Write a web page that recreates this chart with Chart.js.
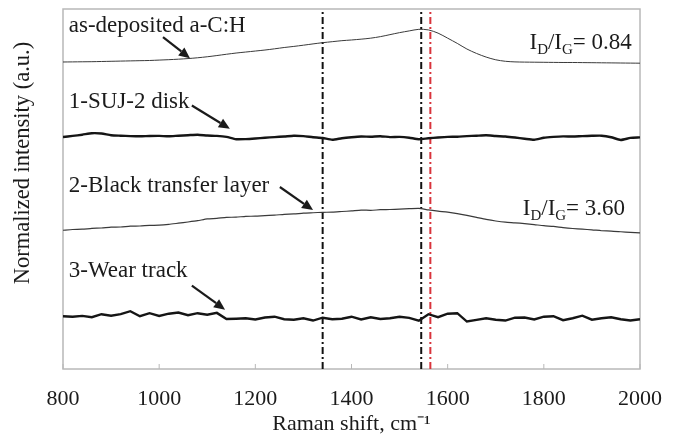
<!DOCTYPE html>
<html>
<head>
<meta charset="utf-8">
<title>Raman spectra</title>
<script src="https://cdn.jsdelivr.net/npm/chart.js@4.4.1/dist/chart.umd.min.js"></script>
<style>
    html, body { margin: 0; padding: 0; background: #fff; }
    #wrap { width: 678px; height: 437px; position: relative; }
</style>
</head>
<body>
<div id="wrap"><canvas id="ramanChart"></canvas></div>
<script>
// Raman shift grid (cm-1), one reading every 20 cm-1
const shiftGrid = Array.from({ length: 61 }, (_, i) => 800 + i * 20);

// Normalized intensities with the vertical offsets of the figure (a.u.)
const asDeposited = [
    30.53, 30.54, 30.55, 30.56, 30.58, 30.60, 30.62, 30.64, 30.66, 30.68, 30.72,
    30.76, 30.81, 30.87, 30.95, 31.05, 31.17, 31.30, 31.42, 31.52, 31.62,
    31.72, 31.84, 31.97, 32.08, 32.20, 32.33, 32.45, 32.55, 32.65, 32.72,
    32.80, 32.90, 33.05, 33.25, 33.45, 33.62, 33.78, 33.72, 33.40, 32.90,
    32.38, 31.82, 31.38, 31.02, 30.75, 30.60, 30.54, 30.52, 30.51, 30.50,
    30.49, 30.48, 30.48, 30.47, 30.46, 30.45, 30.44, 30.43, 30.42, 30.41
];
const sujDisk = [
    23.07, 23.18, 23.30, 23.45, 23.42, 23.25, 23.20, 23.16, 23.14, 23.17, 23.18,
    23.14, 23.20, 23.25, 23.30, 23.22, 23.18, 23.08, 22.85, 22.86, 22.92,
    23.00, 23.06, 23.12, 23.20, 23.16, 23.05, 22.97, 22.80, 22.95, 23.05,
    23.12, 23.10, 23.15, 23.06, 23.08, 23.00, 22.85, 22.95, 23.02, 23.08,
    23.10, 23.16, 23.20, 23.24, 23.17, 23.12, 23.02, 22.90, 22.80, 23.00,
    23.08, 23.13, 23.12, 23.16, 23.19, 23.20, 23.05, 22.78, 22.98, 23.03
];
const transferLayer = [
    13.80, 13.87, 13.90, 13.98, 14.02, 14.10, 14.12, 14.20, 14.22, 14.28, 14.30,
    14.38, 14.50, 14.62, 14.75, 14.92, 14.98, 15.08, 15.10, 15.18, 15.20,
    15.26, 15.30, 15.38, 15.42, 15.50, 15.54, 15.58, 15.60, 15.66, 15.72,
    15.80, 15.78, 15.84, 15.86, 15.90, 15.94, 15.98, 15.82, 15.70, 15.60,
    15.46, 15.28, 15.08, 14.88, 14.72, 14.60, 14.54, 14.46, 14.36, 14.25,
    14.18, 14.06, 13.97, 13.90, 13.84, 13.75, 13.72, 13.65, 13.58, 13.53
];
const wearTrack = [
    5.25, 5.20, 5.28, 5.15, 5.45, 5.30, 5.45, 5.75, 5.25, 5.55, 5.28,
    5.50, 5.62, 5.35, 5.55, 5.40, 5.58, 4.97, 5.00, 5.05, 4.92,
    5.12, 5.20, 4.95, 4.90, 5.05, 4.82, 5.10, 4.95, 5.00, 5.20,
    4.92, 5.15, 4.98, 5.05, 5.20, 5.08, 4.80, 5.45, 5.15, 5.50,
    5.55, 4.72, 4.88, 5.05, 4.90, 4.82, 5.10, 5.12, 4.92, 5.20,
    5.25, 4.85, 5.05, 5.30, 4.90, 5.05, 5.15, 4.95, 4.82, 4.95
];

// Peak position markers (cm-1)
const peakLines = [1340, 1545, 1564];
const peakColors = ['#111111', '#111111', '#d9343c'];

// Sample labels and their arrows (data units)
const labelTexts = ['as-deposited a-C:H', '1-SUJ-2 disk', '2-Black transfer layer', '3-Wear track'];
const labelX = [812, 812, 812, 812];
const labelY = [33.5, 26.0, 17.6, 9.1];
const arrowFromX = [1008, 1068, 1251, 1068];
const arrowFromY = [33.0, 26.2, 18.1, 8.3];
const arrowToX = [1064, 1147, 1320, 1137];
const arrowToY = [30.9, 23.9, 15.8, 5.9];

// ID/IG ratios written on the right side
const ratioValues = ['0.84', '3.60'];
const ratioX = [1983, 1969];
const ratioY = [31.8, 15.3];

// Axes
const xMin = 800, xMax = 2000, xStep = 200;
const yMin = 0, yMax = 35.8;
const yTitle = 'Normalized intensity (a.u.)';

const serif = '"Liberation Serif", "Times New Roman", serif';
const textColor = '#1b1b1b';

function toPoints(values) {
    return values.map((v, i) => ({ x: shiftGrid[i], y: v }));
}

function spectrum(label, values, width, color, tension) {
    return {
        label: label,
        data: toPoints(values),
        borderColor: color,
        borderWidth: width,
        pointRadius: 0,
        tension: tension,
        fill: false
    };
}

function peakLine(x, color) {
    return {
        label: 'peak ' + x,
        data: [{ x: x, y: yMin }, { x: x, y: yMax }],
        borderColor: color,
        borderWidth: 2,
        borderDash: [7, 3, 2, 3],
        pointRadius: 0,
        fill: false
    };
}

// Draw an arrow with a filled head
function drawArrow(ctx, x1, y1, x2, y2) {
    const ang = Math.atan2(y2 - y1, x2 - x1);
    const head = 11, half = 5;
    const bx = x2 - head * Math.cos(ang), by = y2 - head * Math.sin(ang);
    ctx.beginPath();
    ctx.moveTo(x1, y1);
    ctx.lineTo(bx, by);
    ctx.stroke();
    ctx.beginPath();
    ctx.moveTo(x2, y2);
    ctx.lineTo(bx + half * Math.sin(ang), by - half * Math.cos(ang));
    ctx.lineTo(bx - half * Math.sin(ang), by + half * Math.cos(ang));
    ctx.closePath();
    ctx.fill();
}

// Draw "ID/IG= value" right-aligned at (right, baseline)
function drawRatio(ctx, value, right, baseline) {
    const big = '23px ' + serif, small = '15px ' + serif;
    const parts = [
        { t: 'I', f: big, dy: 0 },
        { t: 'D', f: small, dy: 5 },
        { t: '/I', f: big, dy: 0 },
        { t: 'G', f: small, dy: 5 },
        { t: '= ' + value, f: big, dy: 0 }
    ];
    let total = 0;
    parts.forEach(p => { ctx.font = p.f; total += ctx.measureText(p.t).width; });
    let x = right - total;
    ctx.textAlign = 'left';
    parts.forEach(p => {
        ctx.font = p.f;
        ctx.fillText(p.t, x, baseline + p.dy);
        x += ctx.measureText(p.t).width;
    });
}

const overlayPlugin = {
    id: 'ramanOverlay',
    beforeDatasetsDraw(chart) {
        const { ctx, chartArea: a, scales } = chart;
        ctx.save();
        // Plot frame
        ctx.strokeStyle = '#b8b8b8';
        ctx.lineWidth = 1.5;
        ctx.strokeRect(a.left, a.top, a.right - a.left, a.bottom - a.top);
        // Inner ticks on the bottom axis
        ctx.lineWidth = 1;
        scales.x.ticks.forEach(t => {
            const px = scales.x.getPixelForValue(t.value);
            ctx.beginPath();
            ctx.moveTo(px, a.bottom);
            ctx.lineTo(px, a.bottom - 5);
            ctx.stroke();
        });
        // Vertical axis title, a little above the middle as in the figure
        ctx.fillStyle = textColor;
        ctx.font = '22.5px ' + serif;
        ctx.textAlign = 'center';
        ctx.textBaseline = 'middle';
        ctx.translate(23, (a.top + a.bottom) / 2 - 26);
        ctx.rotate(-Math.PI / 2);
        ctx.fillText(yTitle, 0, 0);
        ctx.restore();
    },
    afterDatasetsDraw(chart) {
        const { ctx, scales: { x, y } } = chart;
        ctx.save();
        ctx.fillStyle = textColor;
        ctx.strokeStyle = textColor;
        ctx.textBaseline = 'alphabetic';

        // Sample labels
        ctx.font = '23px ' + serif;
        ctx.textAlign = 'left';
        labelTexts.forEach((txt, i) => {
            ctx.fillText(txt, x.getPixelForValue(labelX[i]), y.getPixelForValue(labelY[i]));
        });

        // Arrows
        ctx.lineWidth = 2.2;
        arrowFromX.forEach((fx, i) => {
            drawArrow(ctx,
                x.getPixelForValue(fx), y.getPixelForValue(arrowFromY[i]),
                x.getPixelForValue(arrowToX[i]), y.getPixelForValue(arrowToY[i]));
        });

        // ID/IG ratios
        ratioValues.forEach((v, i) => {
            drawRatio(ctx, v, x.getPixelForValue(ratioX[i]), y.getPixelForValue(ratioY[i]));
        });
        ctx.restore();
    }
};

const datasets = [
    spectrum('as-deposited a-C:H', asDeposited, 1, '#3a3a3a', 0.3),
    spectrum('1-SUJ-2 disk', sujDisk, 2.4, '#151515', 0.2),
    spectrum('2-Black transfer layer', transferLayer, 1.2, '#3a3a3a', 0.2),
    spectrum('3-Wear track', wearTrack, 2.4, '#151515', 0)
];
peakLines.forEach((p, i) => datasets.push(peakLine(p, peakColors[i])));

new Chart(document.getElementById('ramanChart'), {
    type: 'line',
    data: { datasets: datasets },
    options: {
        responsive: true,
        maintainAspectRatio: false,
        animation: false,
        layout: { padding: { top: 9, right: 38, left: 0, bottom: 0 } },
        plugins: {
            legend: { display: false },
            tooltip: { enabled: false }
        },
        scales: {
            x: {
                type: 'linear',
                min: xMin,
                max: xMax,
                border: { display: false },
                grid: { display: false },
                ticks: {
                    stepSize: xStep,
                    color: textColor,
                    padding: 9,
                    font: { family: serif, size: 22 },
                    callback: function(value) { return String(value); }
                },
                title: {
                    display: true,
                    text: 'Raman shift, cm\u207B\u00B9',
                    color: textColor,
                    font: { family: serif, size: 22 },
                    padding: { top: 0, bottom: 0 }
                },
                afterFit: function(scale) { scale.height = 68; }
            },
            y: {
                min: yMin,
                max: yMax,
                border: { display: false },
                grid: { display: false },
                ticks: { display: false },
                title: { display: false },
                afterFit: function(scale) { scale.width = 63; }
            }
        }
    },
    plugins: [overlayPlugin]
});
</script>
</body>
</html>
